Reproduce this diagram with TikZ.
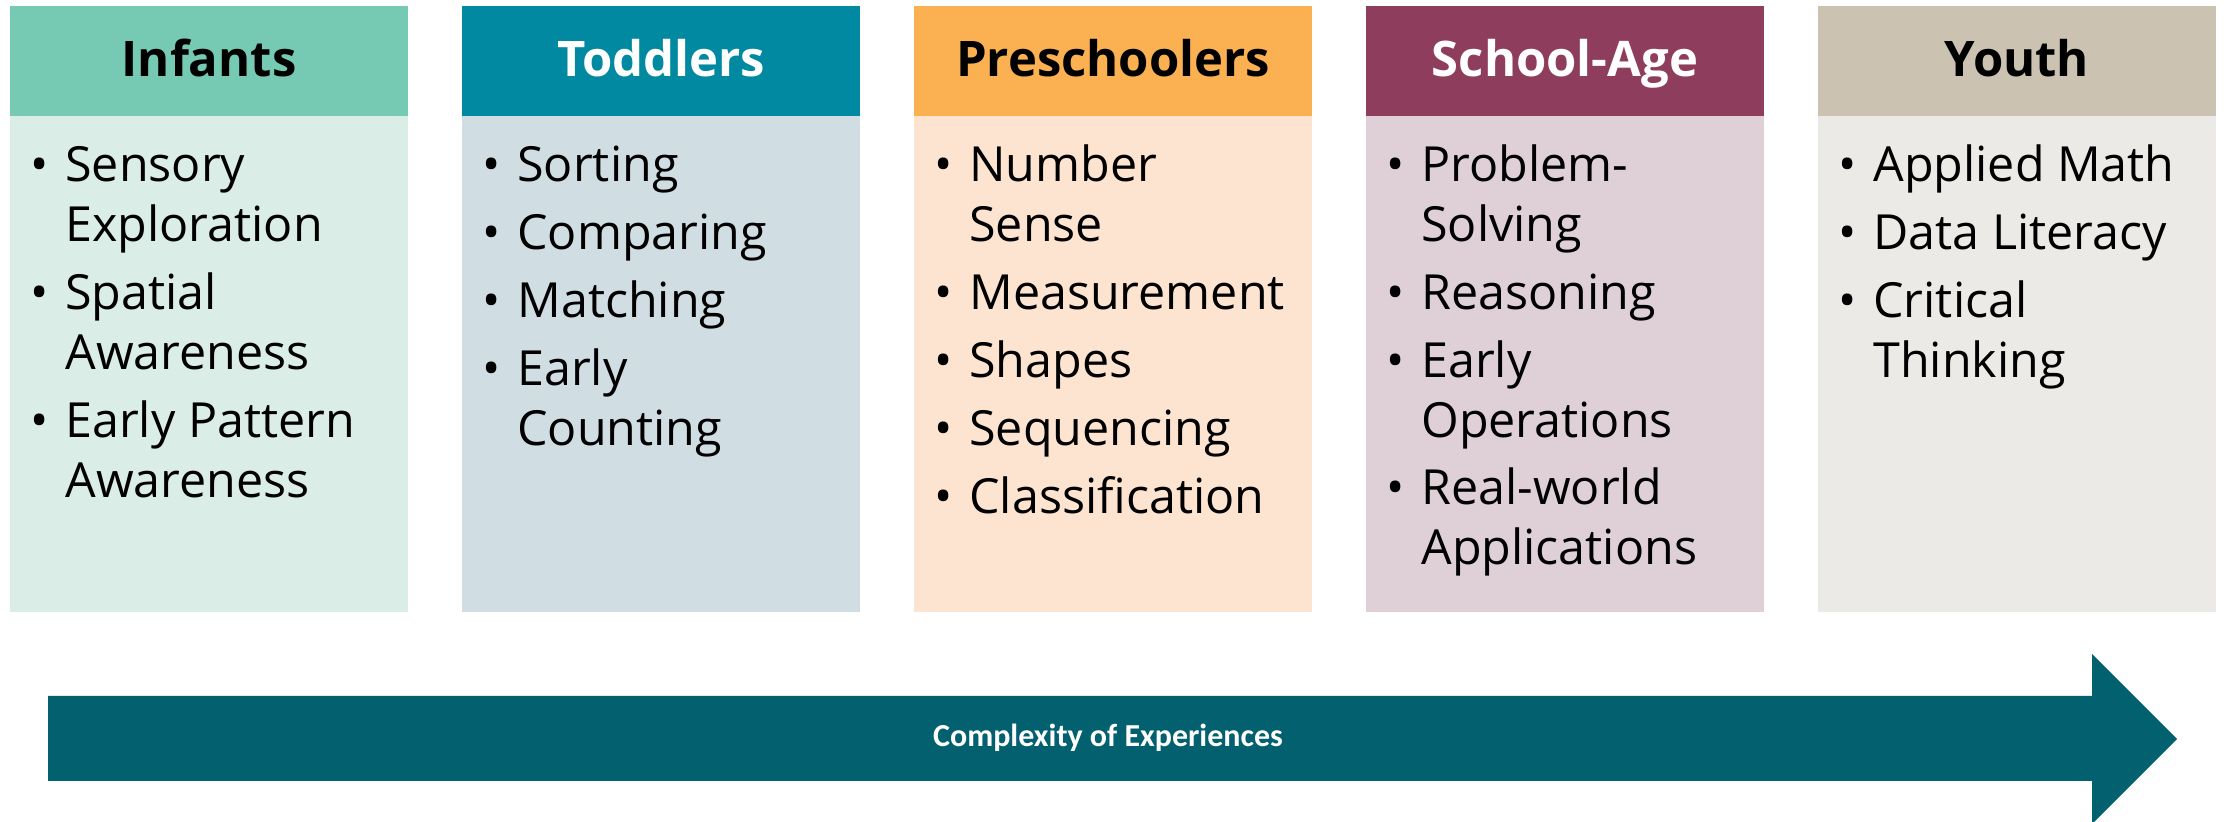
\documentclass[tikz,border=0pt]{standalone}
\usepackage{fontspec}
\setmainfont{Open Sans}
\newfontfamily\labelfont{Carlito}
\begin{document}
\begin{tikzpicture}[x=0.5pt,y=-0.5pt,
  hdr/.style={inner sep=0pt, minimum width=199pt, minimum height=55pt,
    text height=16pt, text depth=0pt,
    font=\fontsize{24.5}{29}\selectfont\bfseries},
  bodybox/.style={inner sep=0pt, minimum width=199pt, minimum height=248pt},
  bul/.style={anchor=base west, inner sep=0pt, font=\fontsize{24.2}{29}\selectfont},
  txt/.style={anchor=base west, inner sep=0pt, font=\fontsize{24.2}{29}\selectfont}]
\definecolor{infH}{HTML}{76C9B2}\definecolor{infB}{HTML}{DAEDE6}
\definecolor{todH}{HTML}{0089A0}\definecolor{todB}{HTML}{D0DDE3}
\definecolor{preH}{HTML}{FBB052}\definecolor{preB}{HTML}{FDE4D1}
\definecolor{schH}{HTML}{8F3D5C}\definecolor{schB}{HTML}{DED0D6}
\definecolor{youH}{HTML}{CBC2B2}\definecolor{youB}{HTML}{EBEAE6}
\definecolor{arrowC}{HTML}{02606F}
\useasboundingbox (0,0) rectangle (2228,822);

% column headers and bodies
\node[hdr, fill=infH, text=black] (h1) at (209,61) {Infants};
\node[bodybox, fill=infB] (b1) at (209,364) {};
\node[hdr, fill=todH, text=white] (h2) at (661,61) {Toddlers};
\node[bodybox, fill=todB] (b2) at (661,364) {};
\node[hdr, fill=preH, text=black] (h3) at (1113,61) {Preschoolers};
\node[bodybox, fill=preB] (b3) at (1113,364) {};
\node[hdr, fill=schH, text=white] (h4) at (1565,61) {School-Age};
\node[bodybox, fill=schB] (b4) at (1565,364) {};
\node[hdr, fill=youH, text=black] (h5) at (2017,61) {Youth};
\node[bodybox, fill=youB] (b5) at (2017,364) {};

% Infants
\node[bul] (p11) at (30,182) {•};
\node[txt] (t11a) at (65,182) {Sensory};
\node[txt] (t11b) at (65,242) {Exploration};
\node[bul] (p12) at (30,310) {•};
\node[txt] (t12a) at (65,310) {Spatial};
\node[txt] (t12b) at (65,370) {Awareness};
\node[bul] (p13) at (30,438) {•};
\node[txt] (t13a) at (65,438) {Early Pattern};
\node[txt] (t13b) at (65,498) {Awareness};

% Toddlers
\node[bul] (p21) at (482,182) {•};
\node[txt] (t21) at (517,182) {Sorting};
\node[bul] (p22) at (482,250) {•};
\node[txt] (t22) at (517,250) {Comparing};
\node[bul] (p23) at (482,318) {•};
\node[txt] (t23) at (517,318) {Matching};
\node[bul] (p24) at (482,386) {•};
\node[txt] (t24a) at (517,386) {Early};
\node[txt] (t24b) at (517,446) {Counting};

% Preschoolers
\node[bul] (p31) at (934,182) {•};
\node[txt] (t31a) at (969,182) {Number};
\node[txt] (t31b) at (969,242) {Sense};
\node[bul] (p32) at (934,310) {•};
\node[txt] (t32) at (969,310) {Measurement};
\node[bul] (p33) at (934,378) {•};
\node[txt] (t33) at (969,378) {Shapes};
\node[bul] (p34) at (934,446) {•};
\node[txt] (t34) at (969,446) {Sequencing};
\node[bul] (p35) at (934,514) {•};
\node[txt] (t35) at (969,514) {Classification};

% School-Age
\node[bul] (p41) at (1386,182) {•};
\node[txt] (t41a) at (1421,182) {Problem-};
\node[txt] (t41b) at (1421,242) {Solving};
\node[bul] (p42) at (1386,310) {•};
\node[txt] (t42) at (1421,310) {Reasoning};
\node[bul] (p43) at (1386,378) {•};
\node[txt] (t43a) at (1421,378) {Early};
\node[txt] (t43b) at (1421,438) {Operations};
\node[bul] (p44) at (1386,505) {•};
\node[txt] (t44a) at (1421,505) {Real-world};
\node[txt] (t44b) at (1421,565) {Applications};

% Youth
\node[bul] (p51) at (1838,182) {•};
\node[txt] (t51) at (1873,182) {Applied Math};
\node[bul] (p52) at (1838,250) {•};
\node[txt] (t52) at (1873,250) {Data Literacy};
\node[bul] (p53) at (1838,318) {•};
\node[txt] (t53a) at (1873,318) {Critical};
\node[txt] (t53b) at (1873,378) {Thinking};

% progression arrow
\coordinate (a1) at (48,696);
\coordinate (a2) at (2092,696);
\coordinate (a3) at (2092,654);
\coordinate (a4) at (2177,739);
\coordinate (a5) at (2092,824);
\coordinate (a6) at (2092,781);
\coordinate (a7) at (48,781);
\fill[arrowC] (a1) -- (a2) -- (a3) -- (a4) -- (a5) -- (a6) -- (a7) -- cycle;
\node[text=white, inner sep=0pt, anchor=base, font=\labelfont\bfseries\fontsize{16}{19}\selectfont] (lbl) at (1108,747) {Complexity of Experiences};
\end{tikzpicture}
\end{document}
